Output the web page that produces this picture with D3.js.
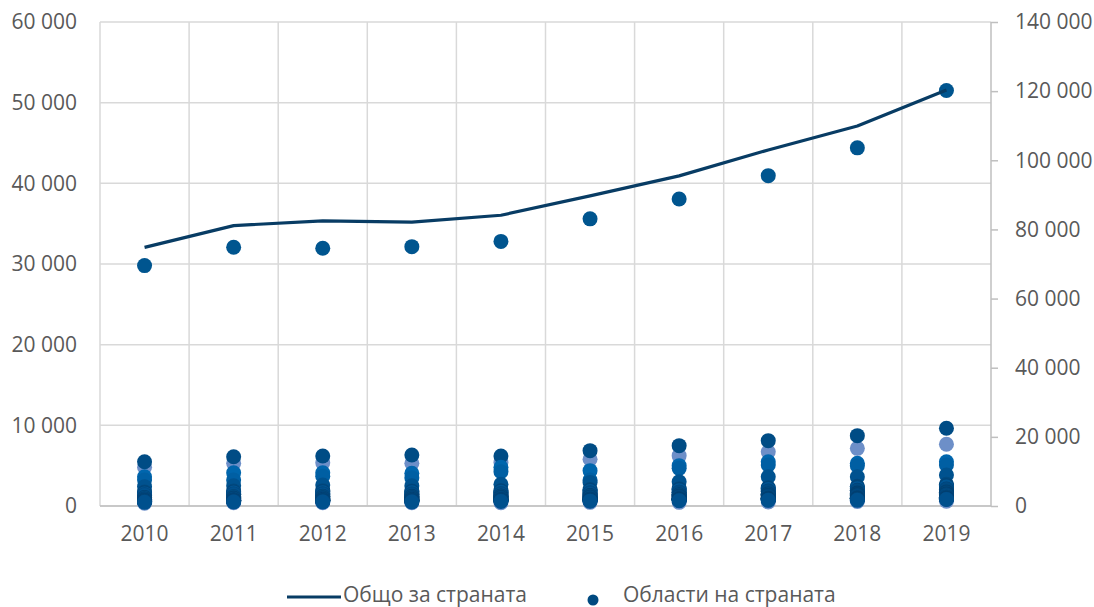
<!DOCTYPE html>
<html><head><meta charset="utf-8">
<script src="https://cdn.jsdelivr.net/npm/d3@7"></script>
<style>
body{margin:0;background:#fff;}
svg text{font-family:"Open Sans","Liberation Sans",sans-serif;fill:#595959;}
</style></head>
<body><svg id="c" width="1094" height="607"></svg>
<script>
const years = ["2010","2011","2012","2013","2014","2015","2016","2017","2018","2019"];
const leftTicks = [0,10000,20000,30000,40000,50000,60000];
const rightTicks = [0,20000,40000,60000,80000,100000,120000,140000];
const lineLabel = "Общо за страната";
const dotLabel = "Области на страната";
// national total (right axis)
const total = [74800,81100,82500,82100,84100,89700,95500,103000,109900,120300];
// regions (left axis)
const regionNames = ["Видин","Варна","Столична","Пловдив","Бургас","Стара Загора","Софийска","Русе","Благоевград","Велико Търново","Пазарджик","Плевен","Враца","Хасково","Шумен","Добрич","Габрово","Сливен","Ловеч","Монтана","Кърджали","Перник","Кюстендил","Ямбол","Търговище","Разград","Смолян","Силистра"];
const regionValues = [
 [350,400,400,400,400,450,450,500,550,600],
 [4800,5290,5370,5290,5400,5790,6240,6730,7150,7650],
 [29800,32070,31950,32150,32800,35600,38050,40950,44400,51500],
 [5490,6110,6200,6320,6200,6860,7480,8100,8720,9630],
 [3630,4130,4130,4050,4800,4380,5000,5490,5290,5490],
 [3220,3220,3700,3500,4260,3220,4670,5080,5000,5080],
 [2400,2500,2600,2500,2700,2900,3000,3630,3630,3840],
 [1750,1850,1900,1850,1900,2050,2150,2300,2450,2700],
 [1650,1750,1800,1800,1850,1950,2050,2200,2350,2550],
 [1500,1600,1650,1650,1700,1800,1900,2050,2150,2350],
 [1350,1450,1500,1450,1500,1600,1700,1850,1950,2100],
 [1400,1500,1500,1500,1550,1600,1700,1800,1900,2050],
 [1300,1400,1350,1300,1350,1450,1450,1500,1550,1700],
 [1050,1150,1200,1200,1250,1300,1400,1500,1600,1750],
 [1000,1100,1150,1150,1200,1250,1350,1450,1500,1650],
 [1000,1150,1150,1100,1150,1200,1300,1350,1400,1550],
 [850,950,1000,1000,1050,1100,1200,1300,1400,1500],
 [850,900,950,950,1000,1050,1150,1250,1300,1400],
 [750,850,850,850,900,950,1000,1100,1150,1250],
 [700,750,800,800,800,850,900,950,1000,1100],
 [650,700,750,750,800,850,900,950,1050,1100],
 [650,700,700,700,750,800,850,900,950,1050],
 [650,700,700,700,750,800,850,900,950,1000],
 [600,650,700,700,700,750,800,850,900,950],
 [550,650,650,650,700,750,800,850,900,950],
 [550,650,650,650,700,750,850,900,950,1000],
 [550,600,600,600,650,650,700,750,800,850],
 [450,500,500,500,550,600,650,700,700,800]
];
const regionColors = ["#6d8fc8","#6d8fc8","#00558f","#004c85","#0066ad","#005fa3","#00528f",
 "#004a80","#00457a","#005594","#004176","#004a82","#00508d","#003f70","#004578","#004a80","#003e6d","#00467c","#004a80","#003f70","#00457a","#004a80","#003f70","#00467c","#004a80","#003f70","#00457a","#00508d"];

const svg = d3.select("#c");
const L=100, R=991, T=22, B=506;
const x = d3.scaleBand().domain(years).range([L,R]);
const yL = d3.scaleLinear().domain([0,60000]).range([B,T]);
const yR = d3.scaleLinear().domain([0,140000]).range([B,T]);
const fmt = v => d3.format(",")(v).replace(/,/g," ");

// gridlines
svg.append("g").selectAll("line").data(leftTicks).join("line")
  .attr("x1",L).attr("x2",R).attr("y1",d=>yL(d)).attr("y2",d=>yL(d))
  .attr("stroke","#d9d9d9").attr("stroke-width",1.5);
svg.append("g").selectAll("line").data(years.slice(1)).join("line")
  .attr("x1",d=>x(d)).attr("x2",d=>x(d)).attr("y1",T).attr("y2",B)
  .attr("stroke","#d9d9d9").attr("stroke-width",1.5);
// axes lines
svg.append("line").attr("x1",L).attr("x2",L).attr("y1",T).attr("y2",B).attr("stroke","#d9d9d9").attr("stroke-width",1.5);
svg.append("line").attr("x1",L).attr("x2",R).attr("y1",B).attr("y2",B).attr("stroke","#bfbfbf").attr("stroke-width",1.5);

// left axis
const gl = svg.append("g").attr("transform",`translate(${L},0)`)
  .call(d3.axisLeft(yL).tickValues(leftTicks).tickFormat(fmt).tickSize(0).tickPadding(23));
gl.select(".domain").remove();
gl.selectAll("text").attr("font-size",21).attr("fill","#595959");

// right axis
const gr = svg.append("g").attr("transform",`translate(${R},0)`)
  .call(d3.axisRight(yR).tickValues(rightTicks).tickFormat(fmt).tickSize(7).tickPadding(17));
gr.select(".domain").attr("stroke","#bfbfbf").attr("stroke-width",1.5).attr("d",`M0,${T}V${B}`);
gr.selectAll(".tick line").attr("stroke","#bfbfbf").attr("stroke-width",1.5);
gr.selectAll("text").attr("font-size",21).attr("fill","#595959");

// x axis
const gx = svg.append("g").attr("transform",`translate(0,${B})`)
  .call(d3.axisBottom(x).tickSize(0).tickPadding(20));
gx.select(".domain").remove();
gx.selectAll("text").attr("font-size",21).attr("fill","#595959");

// dots
regionValues.forEach((vals,i)=>{
  svg.append("g").selectAll("circle").data(vals).join("circle")
    .attr("cx",(d,j)=>x(years[j])+x.bandwidth()/2)
    .attr("cy",d=>yL(d)).attr("r",7.5).attr("fill",regionColors[i]);
});

// line
const line = d3.line().x((d,j)=>x(years[j])+x.bandwidth()/2).y(d=>yR(d));
svg.append("path").datum(total).attr("d",line).attr("fill","none")
  .attr("stroke","#083c64").attr("stroke-width",3.2).attr("stroke-linejoin","round");

// legend
const lg = svg.append("g");
lg.append("line").attr("x1",287).attr("x2",341).attr("y1",597).attr("y2",597).attr("stroke","#083c64").attr("stroke-width",3.2);
lg.append("text").attr("x",343).attr("y",602).attr("font-size",21).attr("fill","#595959").text(lineLabel);
lg.append("circle").attr("cx",593).attr("cy",600).attr("r",5.5).attr("fill","#004a80");
lg.append("text").attr("x",623).attr("y",602).attr("font-size",21).attr("fill","#595959").text(dotLabel);
</script></body></html>
